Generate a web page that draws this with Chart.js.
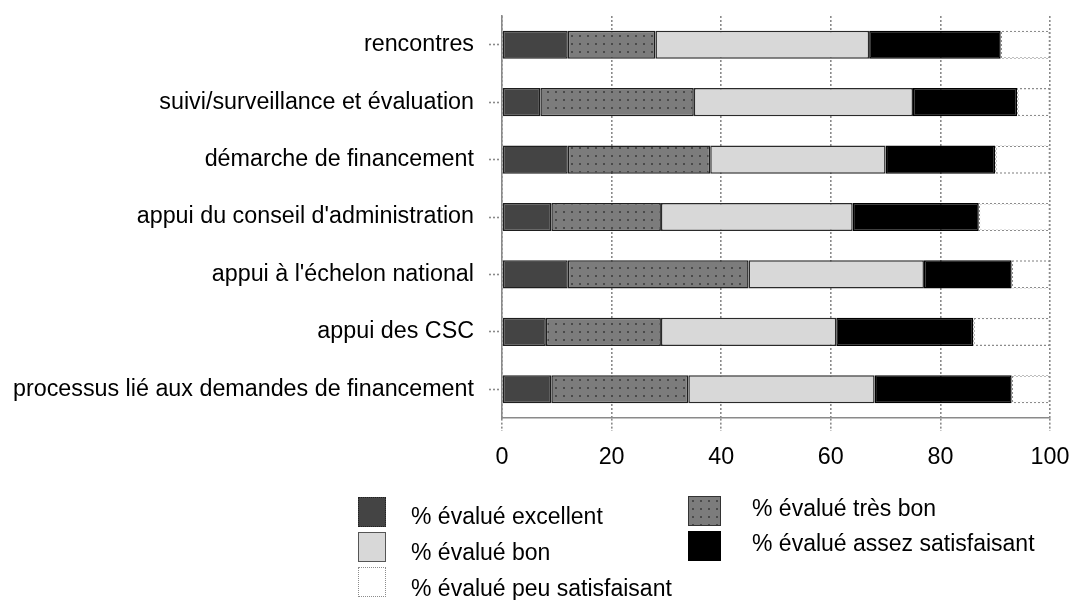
<!DOCTYPE html>
<html>
<head>
<meta charset="utf-8">
<script src="https://cdn.jsdelivr.net/npm/chart.js@4.4.1/dist/chart.umd.min.js"></script>
<style>
  html, body { margin: 0; padding: 0; background: #fff; }
  #wrap { position: relative; width: 1073px; height: 600px; overflow: hidden; }
  #c { position: absolute; left: 0; top: 0; }
  .leg-text { position: absolute; font-family: "Liberation Sans", Arial, sans-serif; font-size: 23px; color: #000; white-space: nowrap; line-height: 1; }
  .leg-sw { position: absolute; box-sizing: border-box; }
</style>
</head>
<body>
<div id="wrap">
  <canvas id="c" width="1073" height="600"></canvas>
  <div id="legend"></div>
</div>
<script>
// Survey categories (top to bottom)
const categories = [
  "rencontres",
  "suivi/surveillance et évaluation",
  "démarche de financement",
  "appui du conseil d'administration",
  "appui à l'échelon national",
  "appui des CSC",
  "processus lié aux demandes de financement"
];

// Share of respondents per rating (%)
const excellent         = [12,  7, 12,  9, 12,  8,  9];
const tresBon           = [16, 28, 26, 20, 33, 21, 25];
const bon               = [39, 40, 32, 35, 32, 32, 34];
const assezSatisfaisant = [24, 19, 20, 23, 16, 25, 25];
const peuSatisfaisant   = [ 9,  6, 10, 13,  7, 14,  7];

const seriesLabels = [
  "% évalué excellent",
  "% évalué très bon",
  "% évalué bon",
  "% évalué assez satisfaisant",
  "% évalué peu satisfaisant"
];

const xTicks = [0, 20, 40, 60, 80, 100];

const FONT = '"Liberation Sans", Arial, sans-serif';

// Grey fill with a fine grid of darker dots
function dottedFill() {
  const t = document.createElement('canvas');
  t.width = 8; t.height = 8;
  const g = t.getContext('2d');
  g.fillStyle = '#7c7c7c';
  g.fillRect(0, 0, 8, 8);
  g.fillStyle = '#4a4a4a';
  g.fillRect(3, 3, 2, 2);
  return t;
}
// Checker tile giving a dotted outline on white bars
function dottedEdge() {
  const t = document.createElement('canvas');
  t.width = 4; t.height = 4;
  const g = t.getContext('2d');
  g.fillStyle = '#ffffff';
  g.fillRect(0, 0, 4, 4);
  g.fillStyle = '#8c8c8c';
  g.fillRect(0, 0, 2, 2);
  g.fillRect(2, 2, 2, 2);
  return t;
}

const canvas = document.getElementById('c');
const ctx = canvas.getContext('2d');
const dotTile = dottedFill();
const edgeTile = dottedEdge();
const dotPattern = ctx.createPattern(dotTile, 'repeat');
const edgePattern = ctx.createPattern(edgeTile, 'repeat');

const fills = ['#444444', dotPattern, '#d8d8d8', '#000000', '#ffffff'];
const edges = ['#1e1e1e', '#1e1e1e', '#2a2a2a', '#000000', edgePattern];
const values = [excellent, tresBon, bon, assezSatisfaisant, peuSatisfaisant];

const datasets = values.map((v, i) => ({
  label: seriesLabels[i],
  data: v,
  backgroundColor: fills[i],
  borderColor: edges[i],
  borderWidth: 1.5,
  borderSkipped: false,
  barPercentage: 0.49,
  categoryPercentage: 1.0
}));

const gridColor = '#8a8a8a';

new Chart(canvas, {
  type: 'bar',
  data: { labels: categories, datasets },
  options: {
    indexAxis: 'y',
    responsive: false,
    animation: false,
    devicePixelRatio: 1,
    layout: { padding: { left: 0, right: 23, top: 16, bottom: 0 } },
    plugins: { legend: { display: false }, tooltip: { enabled: false } },
    scales: {
      x: {
        stacked: true,
        min: 0,
        max: 100,
        afterBuildTicks: (s) => { s.ticks = xTicks.map(v => ({ value: v })); },
        afterFit: (s) => { s.height = 182; s.paddingLeft = 0; s.paddingRight = 0; },
        ticks: {
          color: '#000',
          font: { family: FONT, size: 23.3 },
          padding: 13,
          maxRotation: 0
        },
        grid: {
          color: gridColor,
          lineWidth: 1.6,
          tickLength: 13,
          tickColor: gridColor,
          tickWidth: 1.6,
          tickBorderDash: [2, 2]
        },
        border: { display: true, color: gridColor, width: 1.6, dash: [2, 2] }
      },
      y: {
        stacked: true,
        afterFit: (s) => { s.width = 502; s.paddingTop = 0; s.paddingBottom = 0; },
        ticks: {
          color: '#000',
          font: { family: FONT, size: 23.3 },
          padding: 15
        },
        grid: {
          offset: false,
          drawOnChartArea: false,
          drawTicks: true,
          tickLength: 13,
          tickColor: gridColor,
          tickWidth: 1.6,
          tickBorderDash: [2, 2]
        },
        border: { display: true, color: gridColor, width: 1.6, dash: [2, 2] }
      }
    }
  }
});

// Legend built from the datasets, in two columns
const legendSlots = [
  { sx: 358, sy: 497, sw: 28, sh: 30, tx: 411, ty: 505 },   // excellent
  { sx: 688, sy: 496, sw: 33, sh: 30, tx: 752, ty: 497 },   // très bon
  { sx: 358, sy: 532, sw: 28, sh: 30, tx: 411, ty: 541 },   // bon
  { sx: 688, sy: 531, sw: 33, sh: 30, tx: 752, ty: 532 },   // assez satisfaisant
  { sx: 358, sy: 567, sw: 28, sh: 30, tx: 411, ty: 577 }    // peu satisfaisant
];
const swatchCss = [
  'background:#444444;border:1.5px dotted #222;',
  'background:url(' + dotTile.toDataURL() + ') repeat;border:1.5px solid #333;',
  'background:#d8d8d8;border:1.5px solid #555;',
  'background:#000;border:1.5px solid #000;',
  'background:#fff;border:1.5px dotted #8c8c8c;'
];
const legend = document.getElementById('legend');
seriesLabels.forEach((lab, i) => {
  const s = legendSlots[i];
  const sw = document.createElement('div');
  sw.className = 'leg-sw';
  sw.style.cssText = 'left:' + s.sx + 'px;top:' + s.sy + 'px;width:' + s.sw + 'px;height:' + s.sh + 'px;' + swatchCss[i];
  legend.appendChild(sw);
  const t = document.createElement('div');
  t.className = 'leg-text';
  t.style.left = s.tx + 'px';
  t.style.top = s.ty + 'px';
  t.textContent = lab;
  legend.appendChild(t);
});
</script>
</body>
</html>
